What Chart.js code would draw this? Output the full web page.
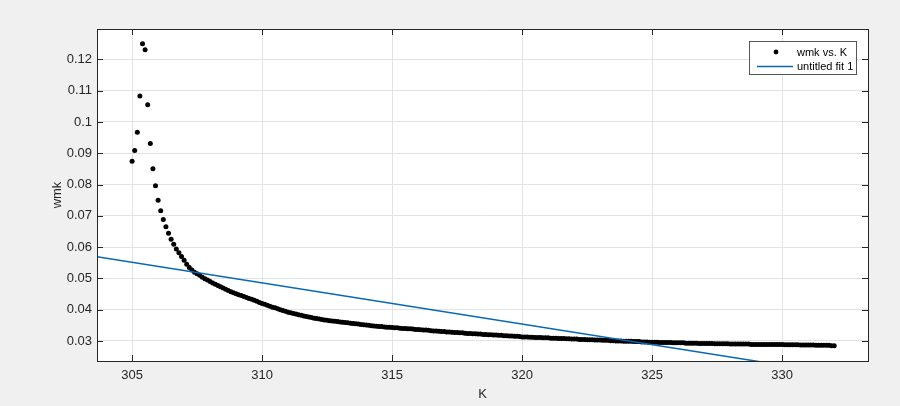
<!DOCTYPE html>
<html>
<head>
<meta charset="utf-8">
<script src="https://cdn.jsdelivr.net/npm/chart.js@4.4.1/dist/chart.umd.min.js"></script>
<style>
  html, body { margin: 0; padding: 0; background: #f0f0f0; }
</style>
</head>
<body>
<canvas id="chart" width="900" height="406"></canvas>
<script>
// measured points (K on x, wmk on y)
const kValues = [
  305.0, 305.1, 305.2, 305.3, 305.4, 305.5, 305.6, 305.7, 305.8, 305.9,
  306.0, 306.1, 306.2, 306.3, 306.4, 306.5, 306.6, 306.7, 306.8, 306.9,
  307.0, 307.1, 307.2, 307.3, 307.4, 307.5, 307.6, 307.7, 307.8, 307.9,
  308.0, 308.1, 308.2, 308.3, 308.4, 308.5, 308.6, 308.7, 308.8, 308.9,
  309.0, 309.1, 309.2, 309.3, 309.4, 309.5, 309.6, 309.7, 309.8, 309.9,
  310.0, 310.1, 310.2, 310.3, 310.4, 310.5, 310.6, 310.7, 310.8, 310.9,
  311.0, 311.1, 311.2, 311.3, 311.4, 311.5, 311.6, 311.7, 311.8, 311.9,
  312.0, 312.1, 312.2, 312.3, 312.4, 312.5, 312.6, 312.7, 312.8, 312.9,
  313.0, 313.1, 313.2, 313.3, 313.4, 313.5, 313.6, 313.7, 313.8, 313.9,
  314.0, 314.1, 314.2, 314.3, 314.4, 314.5, 314.6, 314.7, 314.8, 314.9,
  315.0, 315.1, 315.2, 315.3, 315.4, 315.5, 315.6, 315.7, 315.8, 315.9,
  316.0, 316.1, 316.2, 316.3, 316.4, 316.5, 316.6, 316.7, 316.8, 316.9,
  317.0, 317.1, 317.2, 317.3, 317.4, 317.5, 317.6, 317.7, 317.8, 317.9,
  318.0, 318.1, 318.2, 318.3, 318.4, 318.5, 318.6, 318.7, 318.8, 318.9,
  319.0, 319.1, 319.2, 319.3, 319.4, 319.5, 319.6, 319.7, 319.8, 319.9,
  320.0, 320.1, 320.2, 320.3, 320.4, 320.5, 320.6, 320.7, 320.8, 320.9,
  321.0, 321.1, 321.2, 321.3, 321.4, 321.5, 321.6, 321.7, 321.8, 321.9,
  322.0, 322.1, 322.2, 322.3, 322.4, 322.5, 322.6, 322.7, 322.8, 322.9,
  323.0, 323.1, 323.2, 323.3, 323.4, 323.5, 323.6, 323.7, 323.8, 323.9,
  324.0, 324.1, 324.2, 324.3, 324.4, 324.5, 324.6, 324.7, 324.8, 324.9,
  325.0, 325.1, 325.2, 325.3, 325.4, 325.5, 325.6, 325.7, 325.8, 325.9,
  326.0, 326.1, 326.2, 326.3, 326.4, 326.5, 326.6, 326.7, 326.8, 326.9,
  327.0, 327.1, 327.2, 327.3, 327.4, 327.5, 327.6, 327.7, 327.8, 327.9,
  328.0, 328.1, 328.2, 328.3, 328.4, 328.5, 328.6, 328.7, 328.8, 328.9,
  329.0, 329.1, 329.2, 329.3, 329.4, 329.5, 329.6, 329.7, 329.8, 329.9,
  330.0, 330.1, 330.2, 330.3, 330.4, 330.5, 330.6, 330.7, 330.8, 330.9,
  331.0, 331.1, 331.2, 331.3, 331.4, 331.5, 331.6, 331.7, 331.8, 331.9,
  332.0
];
const wmkValues = [
  0.0874, 0.0909, 0.0967, 0.1083, 0.1250, 0.1231, 0.1055, 0.0931, 0.0850, 0.0796,
  0.0750, 0.0716, 0.0688, 0.0665, 0.0644, 0.0625, 0.0609, 0.0594, 0.0582, 0.0570,
  0.0558, 0.0545, 0.0535, 0.0527, 0.0520, 0.0515, 0.0510, 0.0504, 0.0499, 0.0495,
  0.0490, 0.0485, 0.0481, 0.0477, 0.0473, 0.0469, 0.0465, 0.0461, 0.0457, 0.0454,
  0.0451, 0.0448, 0.0445, 0.0442, 0.0439, 0.0436, 0.0433, 0.0430, 0.0427, 0.0423,
  0.0420, 0.0417, 0.0414, 0.0411, 0.0408, 0.0406, 0.0403, 0.0400, 0.0397, 0.0395,
  0.0392, 0.0390, 0.0388, 0.0386, 0.0384, 0.0382, 0.0380, 0.0378, 0.0377, 0.0375,
  0.0373, 0.0372, 0.0370, 0.0369, 0.0367, 0.0366, 0.0365, 0.0364, 0.0363, 0.0362,
  0.0361, 0.0360, 0.0359, 0.0358, 0.0357, 0.0356, 0.0355, 0.0354, 0.0353, 0.0352,
  0.0351, 0.0350, 0.0349, 0.0348, 0.0347, 0.0346, 0.0346, 0.0345, 0.0344, 0.0344,
  0.0343, 0.0342, 0.0342, 0.0341, 0.0340, 0.0340, 0.0339, 0.0339, 0.0338, 0.0337,
  0.0337, 0.0336, 0.0335, 0.0335, 0.0334, 0.0333, 0.0332, 0.0332, 0.0331, 0.0330,
  0.0330, 0.0329, 0.0329, 0.0328, 0.0327, 0.0327, 0.0326, 0.0326, 0.0325, 0.0324,
  0.0324, 0.0323, 0.0323, 0.0322, 0.0322, 0.0321, 0.0321, 0.0320, 0.0320, 0.0319,
  0.0319, 0.0318, 0.0318, 0.0317, 0.0317, 0.0316, 0.0316, 0.0315, 0.0315, 0.0314,
  0.0313, 0.0313, 0.0313, 0.0312, 0.0312, 0.0311, 0.0311, 0.0311, 0.0310, 0.0310,
  0.0310, 0.0309, 0.0309, 0.0309, 0.0308, 0.0308, 0.0308, 0.0307, 0.0307, 0.0306,
  0.0306, 0.0306, 0.0305, 0.0305, 0.0305, 0.0304, 0.0304, 0.0304, 0.0303, 0.0303,
  0.0303, 0.0302, 0.0302, 0.0302, 0.0301, 0.0301, 0.0300, 0.0300, 0.0300, 0.0299,
  0.0299, 0.0299, 0.0299, 0.0298, 0.0298, 0.0298, 0.0297, 0.0297, 0.0297, 0.0296,
  0.0296, 0.0296, 0.0296, 0.0295, 0.0295, 0.0295, 0.0295, 0.0295, 0.0294, 0.0294,
  0.0294, 0.0294, 0.0294, 0.0293, 0.0293, 0.0293, 0.0293, 0.0293, 0.0292, 0.0292,
  0.0292, 0.0292, 0.0292, 0.0292, 0.0291, 0.0291, 0.0291, 0.0291, 0.0291, 0.0291,
  0.0290, 0.0290, 0.0290, 0.0290, 0.0290, 0.0290, 0.0290, 0.0290, 0.0289, 0.0289,
  0.0289, 0.0289, 0.0289, 0.0289, 0.0289, 0.0289, 0.0289, 0.0289, 0.0289, 0.0289,
  0.0289, 0.0288, 0.0288, 0.0288, 0.0288, 0.0288, 0.0288, 0.0287, 0.0287, 0.0287,
  0.0287, 0.0287, 0.0287, 0.0286, 0.0286, 0.0286, 0.0286, 0.0286, 0.0286, 0.0285,
  0.0285
];

// linear fit, endpoints at the axis edges
const fitK = [303.65, 333.3];
const fitWmk = [0.0569, 0.0179];

const xTicks = [305, 310, 315, 320, 325, 330];
const yTicks = [0.03, 0.04, 0.05, 0.06, 0.07, 0.08, 0.09, 0.1, 0.11, 0.12];

const FONT = "'Liberation Sans', Arial, Helvetica, sans-serif";
const AXIS_COLOR = "#262626";

// gray figure + white axes, box, inward ticks and legend like matlab
const matlabLook = {
    id: "matlabLook",
    beforeDraw(chart) {
        const { ctx, chartArea: a } = chart;
        ctx.save();
        ctx.fillStyle = "#f0f0f0";
        ctx.fillRect(0, 0, chart.width, chart.height);
        ctx.fillStyle = "#ffffff";
        ctx.fillRect(a.left, a.top, a.right - a.left, a.bottom - a.top);
        ctx.restore();
    },
    afterDraw(chart) {
        const { ctx, chartArea: a, scales } = chart;
        ctx.save();
        ctx.strokeStyle = AXIS_COLOR;
        ctx.lineWidth = 1;
        ctx.beginPath();
        const len = 6;
        xTicks.forEach(v => {
            const px = Math.round(scales.x.getPixelForValue(v)) + 0.5;
            ctx.moveTo(px, a.bottom); ctx.lineTo(px, a.bottom - len);
            ctx.moveTo(px, a.top); ctx.lineTo(px, a.top + len);
        });
        yTicks.forEach(v => {
            const py = Math.round(scales.y.getPixelForValue(v)) + 0.5;
            ctx.moveTo(a.left, py); ctx.lineTo(a.left + len, py);
            ctx.moveTo(a.right, py); ctx.lineTo(a.right - len, py);
        });
        ctx.stroke();
        ctx.strokeRect(Math.round(a.left) + 0.5, Math.round(a.top) + 0.5,
            Math.round(a.right - a.left), Math.round(a.bottom - a.top));

        // legend box
        const bx = 749.5, by = 41.5, bw = 107, bh = 33;
        ctx.fillStyle = "#ffffff";
        ctx.fillRect(bx, by, bw, bh);
        ctx.strokeStyle = "#555555";
        ctx.strokeRect(bx, by, bw, bh);
        const ds = chart.data.datasets;
        ctx.font = "11px " + FONT;
        ctx.textBaseline = "middle";
        ctx.fillStyle = "#000000";
        // scatter entry
        ctx.beginPath();
        ctx.arc(776, 52, 2.4, 0, Math.PI * 2);
        ctx.fill();
        ctx.fillText(ds[1].label, 797, 52.5);
        // fit entry
        ctx.strokeStyle = ds[0].borderColor;
        ctx.lineWidth = 1.5;
        ctx.beginPath();
        ctx.moveTo(757, 66.5); ctx.lineTo(793, 66.5);
        ctx.stroke();
        ctx.fillText(ds[0].label, 797, 66.5);
        ctx.restore();
    }
};

new Chart(document.getElementById("chart"), {
    type: "scatter",
    data: {
        datasets: [
            {
                label: "untitled fit 1",
                type: "line",
                data: fitK.map((k, i) => ({ x: k, y: fitWmk[i] })),
                borderColor: "#0a68b0",
                borderWidth: 1.5,
                pointRadius: 0,
                fill: false,
                order: 0
            },
            {
                label: "wmk vs. K",
                data: kValues.map((k, i) => ({ x: k, y: wmkValues[i] })),
                backgroundColor: "#000000",
                borderColor: "#000000",
                pointRadius: 2.5,
                borderWidth: 0,
                order: 1
            }
        ]
    },
    options: {
        responsive: false,
        animation: false,
        devicePixelRatio: 1,
        layout: { padding: { top: 29, right: 32, left: 0, bottom: 0 } },
        plugins: { legend: { display: false }, tooltip: { enabled: false } },
        scales: {
            x: {
                type: "linear",
                min: 303.65,
                max: 333.3,
                afterBuildTicks: s => { s.ticks = xTicks.map(v => ({ value: v })); },
                afterFit: s => { s.height = 45; },
                grid: { color: "#e3e3e3", drawTicks: false },
                border: { display: false },
                ticks: { color: AXIS_COLOR, font: { size: 13, family: FONT }, padding: 7,
                    callback: v => String(v) },
                title: { display: true, text: "K", color: AXIS_COLOR,
                    font: { size: 13, family: FONT }, padding: { top: 0, bottom: 4 } }
            },
            y: {
                min: 0.0236,
                max: 0.1297,
                afterBuildTicks: s => { s.ticks = yTicks.map(v => ({ value: v })); },
                afterFit: s => { s.width = 97; },
                grid: { color: "#e3e3e3", drawTicks: false },
                border: { display: false },
                ticks: { color: AXIS_COLOR, font: { size: 13, family: FONT }, padding: 5,
                    callback: v => String(+v.toFixed(2)) },
                title: { display: true, text: "wmk", color: AXIS_COLOR,
                    font: { size: 13, family: FONT }, padding: { top: 50, bottom: 0 } }
            }
        }
    },
    plugins: [matlabLook]
});
</script>
</body>
</html>
